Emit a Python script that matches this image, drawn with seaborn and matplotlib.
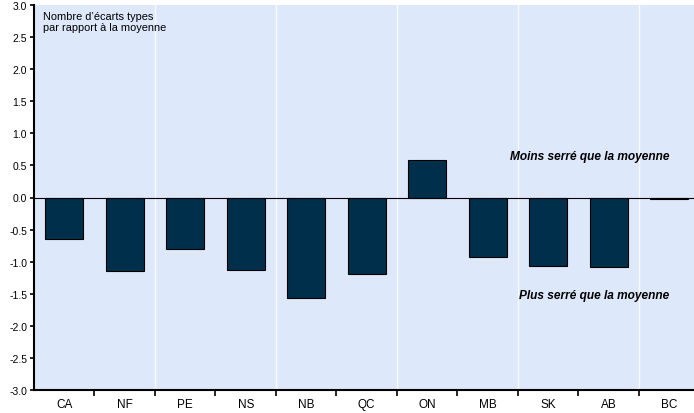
import numpy as np
import pandas as pd
import matplotlib
matplotlib.use("Agg")
import matplotlib.pyplot as plt
import seaborn as sns

# Provinces and standardized deviation values
provinces = ["CA", "NF", "PE", "NS", "NB", "QC", "ON", "MB", "SK", "AB", "BC"]
values = [-0.65, -1.15, -0.80, -1.13, -1.56, -1.19, 0.59, -0.92, -1.07, -1.09, -0.03]

df = pd.DataFrame({"province": provinces, "value": values})

sns.set_style("white")
plt.rcParams["font.family"] = ["Liberation Sans", "DejaVu Sans"]
plt.rcParams["text.color"] = "black"
plt.rcParams["xtick.color"] = "black"
plt.rcParams["ytick.color"] = "black"

fig = plt.figure(figsize=(6.94, 4.14), dpi=100)
ax = fig.add_axes([34 / 694, 1 - 391 / 414, 1 - 34 / 694, (391 - 6) / 414])
ax.set_facecolor("#dde9fb")

sns.barplot(data=df, x="province", y="value", color="#002f4b", width=0.63,
            edgecolor="black", linewidth=0.8, saturation=1, ax=ax, zorder=3)

# white vertical grid lines every two categories
for xg in np.arange(1.5, len(provinces) - 1, 2):
    ax.axvline(xg, color="white", linewidth=0.9, alpha=0.8, zorder=1)
ax.axhline(0, color="black", linewidth=0.8, zorder=4)

ax.set_xlim(-0.5, 10.41)
ax.set_ylim(-3, 3)
ax.set_yticks(np.arange(-3, 3.01, 0.5))
ax.set_yticklabels([f"{v:.1f}" for v in np.arange(-3, 3.01, 0.5)])
ax.set_xticks(range(len(provinces)))
ax.set_xticklabels(provinces)
ax.set_xticks(np.arange(0.5, len(provinces) - 1, 1), minor=True)
ax.tick_params(axis="x", which="major", bottom=True, length=0, labelsize=8.5, pad=6,
               labelcolor="black")
ax.tick_params(axis="x", which="minor", bottom=True, length=4, width=1.2,
               color="black", direction="out")
ax.tick_params(axis="y", which="major", left=True, length=3, width=1.2, color="black",
               direction="out", labelsize=7.5, pad=2, labelcolor="black")
ax.set_xlabel("")
ax.set_ylabel("")

for s in ["top", "right"]:
    ax.spines[s].set_visible(False)
for s in ["left", "bottom"]:
    ax.spines[s].set_color("black")
    ax.spines[s].set_linewidth(1.5)
    ax.spines[s].set_zorder(5)

ax.text(0.013, 0.985, "Nombre d\u2019\u00e9carts types\npar rapport \u00e0 la moyenne",
        transform=ax.transAxes, ha="left", va="top", fontsize=7.9, linespacing=1.15)
ax.text(10.0, 0.65, "Moins serr\u00e9 que la moyenne", ha="right", va="center",
        fontsize=8.6, fontweight="bold", fontstyle="italic")
ax.text(10.0, -1.52, "Plus serr\u00e9 que la moyenne", ha="right", va="center",
        fontsize=8.6, fontweight="bold", fontstyle="italic")

fig.savefig("out.png", dpi=100)
